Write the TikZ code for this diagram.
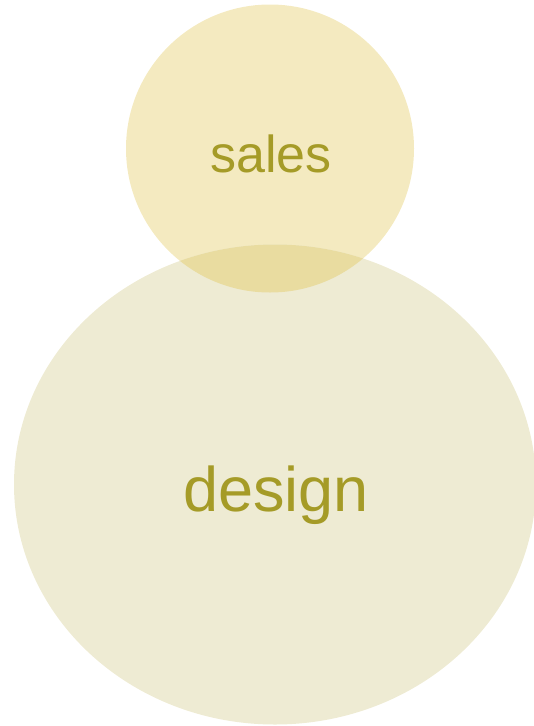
\documentclass[tikz,border=0pt]{standalone}
\usepackage{fontspec}
\setmainfont{Liberation Sans}
\definecolor{salesfill}{HTML}{F4EAC0}
\definecolor{designfill}{HTML}{EEEBD3}
\definecolor{overlapfill}{HTML}{E9DCA0}
\definecolor{labeltext}{HTML}{A59B27}
\tikzset{lbl/.style={text=labeltext, anchor=base, inner sep=0pt}}
\begin{document}
\begin{tikzpicture}[x=1pt,y=-1pt]
\useasboundingbox (0,0) rectangle (534,726);
\fill[salesfill] (270,148.5) circle[radius=144];
\fill[designfill] (275,484.5) ellipse[x radius=261, y radius=240];
\begin{scope}
\clip (270,148.5) circle[radius=144];
\fill[overlapfill] (275,484.5) ellipse[x radius=261, y radius=240];
\end{scope}
\node[lbl, font=\fontsize{52}{60}\selectfont] (sales) at (271,172) {sales};
\node[lbl, font=\fontsize{63}{72}\selectfont] (design) at (276,511) {design};
\end{tikzpicture}
\end{document}
